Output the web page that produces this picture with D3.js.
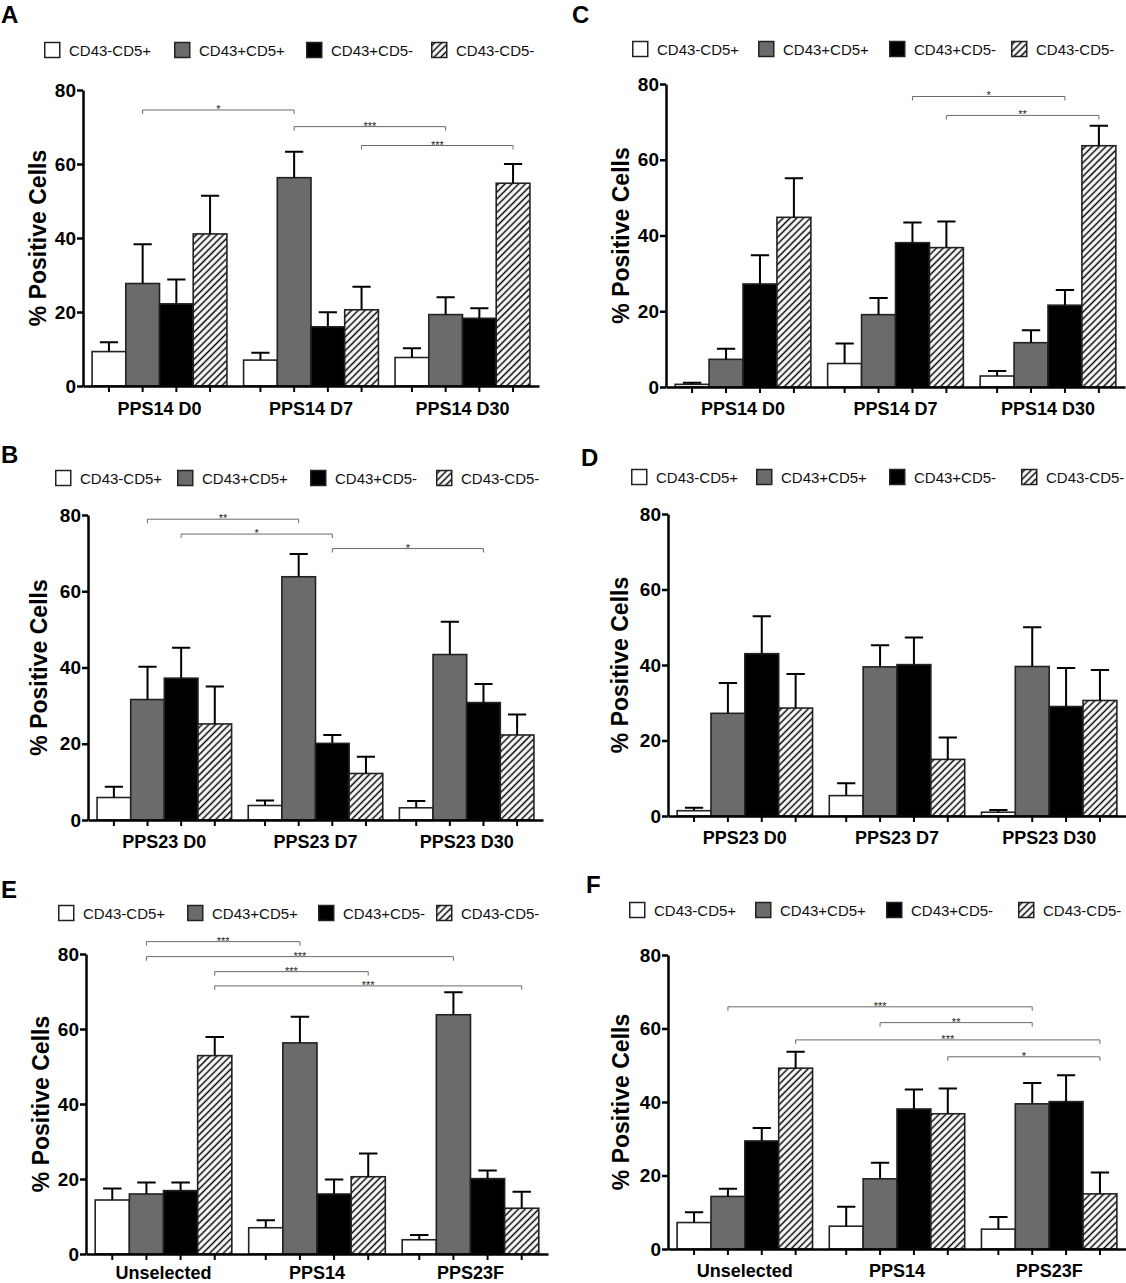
<!DOCTYPE html>
<html><head><meta charset="utf-8">
<script src="https://cdn.jsdelivr.net/npm/d3@7"></script>
<style>
body{margin:0;background:#fff}
svg{display:block}
text{font-family:"Liberation Sans",Arial,Helvetica,sans-serif}
</style>
</head><body>
<svg id="chart" width="1126" height="1283"></svg>
<script>
// ---------------- DATA ----------------
const seriesNames = ["CD43-CD5+", "CD43+CD5+", "CD43+CD5-", "CD43-CD5-"];
const yTicks = [0, 20, 40, 60, 80];

// Panel A
const catsA = ["PPS14 D0", "PPS14 D7", "PPS14 D30"];
const meanA = [[9.3, 27.7, 22.2, 41.1], [7.0, 56.3, 16.0, 20.6], [7.7, 19.3, 18.3, 54.8]];
const semA  = [[2.5, 10.6, 6.6, 10.3], [2.0, 7.0, 3.9, 6.2], [2.5, 4.7, 2.7, 5.2]];
const sigA  = [[0, 1, 1, 1, 74.6, "*"], [1, 1, 2, 1, 70.1, "***"], [1, 3, 2, 3, 65.0, "***"]];

// Panel B
const catsB = ["PPS23 D0", "PPS23 D7", "PPS23 D30"];
const meanB = [[5.9, 31.6, 37.2, 25.2], [3.8, 63.8, 20.1, 12.2], [3.2, 43.4, 30.8, 22.3]];
const semB  = [[2.8, 8.6, 8.0, 9.8], [1.3, 6.0, 2.2, 4.4], [1.8, 8.6, 4.9, 5.4]];
const sigB  = [[0, 1, 1, 1, 78.9, "**"], [0, 2, 1, 2, 75.0, "*"], [1, 2, 2, 2, 71.2, "*"]];

// Panel C
const catsC = ["PPS14 D0", "PPS14 D7", "PPS14 D30"];
const meanC = [[0.7, 7.3, 27.2, 44.8], [6.2, 19.1, 38.1, 36.8], [2.9, 11.7, 21.6, 63.7]];
const semC  = [[0.4, 2.8, 7.6, 10.3], [5.3, 4.4, 5.3, 6.9], [1.3, 3.3, 4.0, 5.3]];
const sigC  = [[1, 2, 2, 2, 76.7, "*"], [1, 3, 2, 3, 71.7, "**"]];

// Panel D
const catsD = ["PPS23 D0", "PPS23 D7", "PPS23 D30"];
const meanD = [[1.4, 27.2, 43.0, 28.6], [5.4, 39.5, 40.1, 15.0], [1.0, 39.6, 29.0, 30.6]];
const semD  = [[0.8, 8.0, 9.9, 9.0], [3.3, 5.7, 7.2, 5.8], [0.6, 10.4, 10.2, 8.1]];
const sigD  = [];

// Panel E
const catsE = ["Unselected", "PPS14", "PPS23F"];
const meanE = [[14.4, 16.0, 16.9, 52.9], [7.0, 56.3, 16.0, 20.6], [3.8, 63.8, 20.1, 12.2]];
const semE  = [[3.1, 3.1, 2.2, 5.0], [2.0, 7.0, 3.9, 6.2], [1.3, 6.0, 2.2, 4.4]];
const sigE  = [[0, 1, 1, 1, 83.3, "***"], [0, 1, 2, 1, 79.3, "***"], [0, 3, 1, 3, 75.3, "***"], [0, 3, 2, 3, 71.5, "***"]];

// Panel F
const catsF = ["Unselected", "PPS14", "PPS23F"];
const meanF = [[7.2, 14.3, 29.4, 49.2], [6.2, 19.1, 38.1, 36.8], [5.4, 39.5, 40.1, 15.0]];
const semF  = [[2.8, 2.1, 3.5, 4.5], [5.3, 4.4, 5.3, 6.9], [3.3, 5.7, 7.2, 5.8]];
const sigF  = [[0, 1, 2, 1, 65.9, "***"], [1, 1, 2, 1, 61.6, "**"], [0, 3, 2, 3, 56.9, "***"], [1, 3, 2, 3, 52.3, "*"]];

// ---------------- LAYOUT (positions / styles) ----------------
const layout = {
  A: {x0: 83,  x1: 539,  yTop: 90,  yBot: 386,  lx: 1,   ly: 23,  legY: 50,  legX: [44, 174, 306, 431],   yLabX: 38,  xPad: 16},
  B: {x0: 88,  x1: 543,  yTop: 515, yBot: 820,  lx: 1,   ly: 463, legY: 478, legX: [55, 177, 310, 436],   yLabX: 39,  xPad: 15},
  C: {x0: 666, x1: 1125, yTop: 84,  yBot: 387,  lx: 572, ly: 23,  legY: 49,  legX: [632, 758, 889, 1011], yLabX: 621, xPad: 15},
  D: {x0: 668, x1: 1126, yTop: 514, yBot: 816,  lx: 581, ly: 466, legY: 477, legX: [631, 756, 889, 1021], yLabX: 620, xPad: 15},
  E: {x0: 86,  x1: 548,  yTop: 954, yBot: 1254, lx: 1,   ly: 898, legY: 913, legX: [58, 187, 318, 436],   yLabX: 41,  xPad: 12},
  F: {x0: 668, x1: 1126, yTop: 955, yBot: 1249, lx: 586, ly: 893, legY: 910, legX: [629, 755, 886, 1018], yLabX: 621, xPad: 15}
};
const fills = ["#ffffff", "#6b6b6b", "#000000", "url(#hatch)"];

const svg = d3.select("#chart");
const defs = svg.append("defs");
const pat = defs.append("pattern").attr("id", "hatch")
  .attr("patternUnits", "userSpaceOnUse").attr("width", 4.8).attr("height", 4.8)
  .attr("patternTransform", "rotate(45)");
pat.append("rect").attr("width", 4.8).attr("height", 4.8).attr("fill", "#fff");
pat.append("line").attr("x1", 2.4).attr("x2", 2.4).attr("y1", -1).attr("y2", 6)
  .attr("stroke", "#000").attr("stroke-width", 1.5);

function drawPanel(letter, cats, means, sems, sigs) {
  const L = layout[letter];
  const g = svg.append("g").attr("class", "panel-" + letter);

  const x = d3.scaleBand().domain(cats).range([L.x0, L.x1]).paddingInner(0.11).paddingOuter(0.06);
  const xs = d3.scaleBand().domain(d3.range(seriesNames.length)).range([0, x.bandwidth()]);
  const y = d3.scaleLinear().domain([0, 80]).range([L.yBot, L.yTop]);

  const flat = [];
  cats.forEach((c, i) => means[i].forEach((m, s) => flat.push({c, s, m, e: sems[i][s]})));
  const cx = d => x(d.c) + xs(d.s) + xs.bandwidth() / 2;

  // letter
  g.append("text").attr("x", L.lx).attr("y", L.ly).text(letter)
    .attr("font-size", 24).attr("font-weight", "bold").attr("fill", "#000");

  // legend
  const leg = g.selectAll("g.leg").data(seriesNames).join("g").attr("class", "leg")
    .attr("transform", (d, i) => `translate(${L.legX[i]},${L.legY})`);
  leg.append("rect").attr("x", 0.75).attr("y", -7.5).attr("width", 15).attr("height", 15)
    .attr("fill", (d, i) => fills[i]).attr("stroke", "#222").attr("stroke-width", 1.5);
  leg.append("text").attr("x", 25).attr("y", 5.5).text(d => d)
    .attr("font-size", 15).attr("fill", "#111");

  // bars
  g.selectAll("rect.bar").data(flat).join("rect").attr("class", "bar")
    .attr("x", d => x(d.c) + xs(d.s)).attr("width", xs.bandwidth())
    .attr("y", d => y(d.m)).attr("height", d => y(0) - y(d.m))
    .attr("fill", d => fills[d.s]).attr("stroke", "#222").attr("stroke-width", 1.6);

  // error bars (upper only)
  const capW = xs.bandwidth() * 0.27;
  g.selectAll("path.err").data(flat).join("path").attr("class", "err")
    .attr("d", d => `M${cx(d)},${y(d.m)}V${y(d.m + d.e)}M${cx(d) - capW},${y(d.m + d.e)}H${cx(d) + capW}`)
    .attr("fill", "none").attr("stroke", "#000").attr("stroke-width", 2);

  // y axis
  const ya = g.append("g").attr("transform", `translate(${L.x0},0)`)
    .call(d3.axisLeft(y).tickValues(yTicks).tickSize(6).tickSizeOuter(0).tickPadding(1).tickFormat(d3.format("d")));
  ya.select(".domain").attr("stroke", "#000").attr("stroke-width", 2.5);
  ya.selectAll(".tick line").attr("stroke", "#000").attr("stroke-width", 2.5);
  ya.selectAll(".tick text").attr("font-size", 19).attr("font-weight", "bold").attr("fill", "#000")
    .attr("font-family", "Liberation Sans, Arial, sans-serif");

  // x axis
  const xa = g.append("g").attr("transform", `translate(0,${L.yBot})`)
    .call(d3.axisBottom(x).tickSize(0).tickSizeOuter(0).tickPadding(L.xPad));
  xa.select(".domain").attr("stroke", "#000").attr("stroke-width", 2.5);
  xa.selectAll(".tick text").attr("font-size", 18).attr("font-weight", "bold").attr("fill", "#000")
    .attr("font-family", "Liberation Sans, Arial, sans-serif");
  g.selectAll("line.xt").data(flat).join("line").attr("class", "xt")
    .attr("x1", cx).attr("x2", cx).attr("y1", L.yBot).attr("y2", L.yBot + 6)
    .attr("stroke", "#000").attr("stroke-width", 2);

  // y label
  const ymid = (L.yTop + L.yBot) / 2;
  g.append("text").attr("transform", `translate(${L.yLabX + 8},${ymid}) rotate(-90)`)
    .attr("text-anchor", "middle").text("% Positive Cells")
    .attr("font-size", 23).attr("font-weight", "bold").attr("fill", "#000");

  // significance brackets
  const bx = (ci, s) => x(cats[ci]) + xs(s) + xs.bandwidth() / 2;
  const sg = g.selectAll("g.sig").data(sigs).join("g").attr("class", "sig");
  sg.append("path").attr("d", d => {
      const yy = y(d[4]);
      return `M${bx(d[0], d[1])},${yy + 4}V${yy}H${bx(d[2], d[3])}V${yy + 4}`;
    }).attr("fill", "none").attr("stroke", "#6a6a6a").attr("stroke-width", 1);
  sg.append("text").attr("x", d => (bx(d[0], d[1]) + bx(d[2], d[3])) / 2)
    .attr("y", d => y(d[4]) + 3).attr("text-anchor", "middle").text(d => d[5])
    .attr("font-size", 11).attr("fill", "#222");
}

drawPanel("A", catsA, meanA, semA, sigA);
drawPanel("B", catsB, meanB, semB, sigB);
drawPanel("C", catsC, meanC, semC, sigC);
drawPanel("D", catsD, meanD, semD, sigD);
drawPanel("E", catsE, meanE, semE, sigE);
drawPanel("F", catsF, meanF, semF, sigF);
</script>
</body></html>
